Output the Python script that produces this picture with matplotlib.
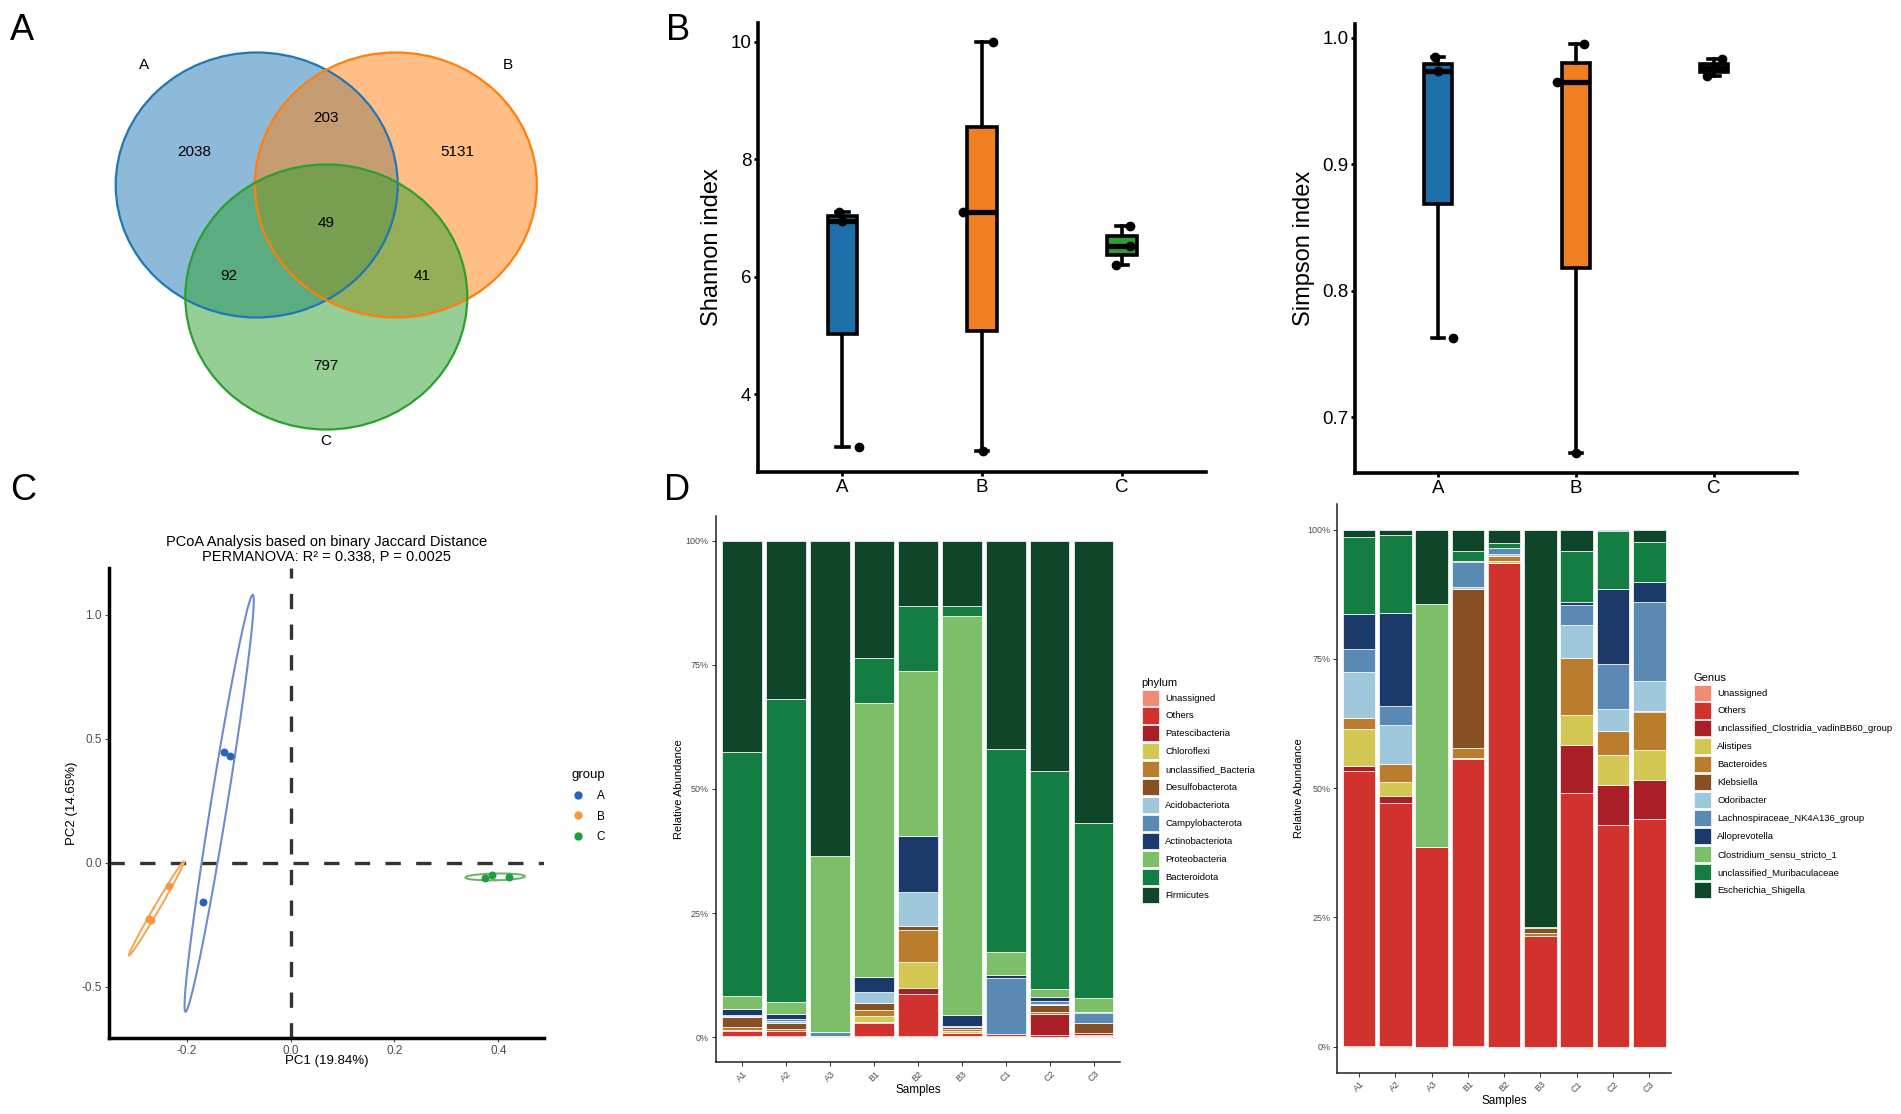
import numpy as np
import matplotlib
matplotlib.use('Agg')
import matplotlib.pyplot as plt
from matplotlib.patches import Ellipse, Patch
from matplotlib.lines import Line2D

plt.rcParams['font.family'] = ['Liberation Sans', 'DejaVu Sans']
plt.rcParams['axes.unicode_minus'] = False

W, H = 1901, 1114

# ---------------- data ----------------
venn_sets = ['A', 'B', 'C']
venn_regions = ['A', 'B', 'C', 'AB', 'AC', 'BC', 'ABC']
venn_counts = [2038, 5131, 797, 203, 92, 41, 49]

groups = ['A', 'B', 'C']
shannon_A = [3.10, 6.95, 7.10]
shannon_B = [3.04, 7.10, 9.99]
shannon_C = [6.20, 6.52, 6.86]
shannon_jit = [[0.12, 0.0, -0.02], [0.005, -0.135, 0.08], [-0.04, 0.056, 0.056]]

simpson_A = [0.763, 0.974, 0.985]
simpson_B = [0.6715, 0.9647, 0.9953]
simpson_C = [0.970, 0.976, 0.983]
simpson_jit = [[0.11, 0.0, -0.02], [0.0, -0.14, 0.06], [-0.05, 0.0, 0.06]]

pc1_A = [-0.128, -0.116, -0.168]
pc2_A = [0.446, 0.432, -0.156]
pc1_B = [-0.233, -0.272, -0.269]
pc2_B = [-0.094, -0.225, -0.232]
pc1_C = [0.3745, 0.3875, 0.420]
pc2_C = [-0.0616, -0.0504, -0.057]

samples = ['A1', 'A2', 'A3', 'B1', 'B2', 'B3', 'C1', 'C2', 'C3']

phyla = ['Unassigned', 'Others', 'Patescibacteria', 'Chloroflexi', 'unclassified_Bacteria',
         'Desulfobacterota', 'Acidobacteriota', 'Campylobacterota', 'Actinobacteriota',
         'Proteobacteria', 'Bacteroidota', 'Firmicutes']
ph_unassigned = [0.2, 0.2, 0.2, 0.2, 0.2, 0.2, 0.2, 0.1, 0.2]
ph_others = [1.1, 1.1, 0.1, 2.7, 8.5, 0.6, 0.5, 0.4, 0.3]
ph_patesci = [0.1, 0.0, 0.0, 0.1, 1.1, 0.1, 0.0, 4.1, 0.3]
ph_chloro = [0.1, 0.0, 0.0, 1.2, 5.4, 0.4, 0.0, 0.0, 0.0]
ph_unclbact = [0.5, 0.3, 0.0, 1.2, 6.3, 0.3, 0.0, 0.4, 0.0]
ph_desulfo = [2.0, 1.2, 0.0, 1.4, 0.9, 0.4, 0.0, 1.4, 2.0]
ph_acido = [0.3, 0.5, 0.0, 2.2, 6.9, 0.1, 0.0, 0.2, 0.0]
ph_campylo = [0.2, 0.4, 0.8, 0.0, 0.0, 0.2, 11.3, 0.6, 2.0]
ph_actino = [1.2, 0.9, 0.0, 3.1, 11.3, 2.1, 0.5, 0.8, 0.3]
ph_proteo = [2.5, 2.4, 35.3, 55.2, 33.1, 80.4, 4.7, 1.6, 2.8]
ph_bactero = [49.2, 61.0, 0.1, 9.0, 13.1, 2.0, 40.8, 43.9, 35.2]
ph_firmi = [42.6, 32.0, 63.5, 23.7, 13.2, 13.2, 42.0, 46.5, 56.9]

genera = ['Unassigned', 'Others', 'unclassified_Clostridia_vadinBB60_group', 'Alistipes',
          'Bacteroides', 'Klebsiella', 'Odoribacter', 'Lachnospiraceae_NK4A136_group',
          'Alloprevotella', 'Clostridium_sensu_stricto_1', 'unclassified_Muribaculaceae',
          'Escherichia_Shigella']
ge_unassigned = [0.1, 0.1, 0.0, 0.1, 0.0, 0.0, 0.0, 0.0, 0.0]
ge_others = [53.2, 47.0, 38.6, 55.5, 93.5, 21.4, 49.1, 42.9, 44.0]
ge_vadin = [0.9, 1.4, 0.0, 0.0, 0.0, 0.0, 9.2, 7.7, 7.5]
ge_alistipes = [7.2, 2.8, 0.0, 0.2, 0.5, 0.0, 5.8, 5.9, 5.9]
ge_bacteroides = [2.1, 3.4, 0.0, 2.0, 0.9, 0.5, 11.1, 4.5, 7.3]
ge_klebsiella = [0.0, 0.0, 0.0, 30.7, 0.0, 1.1, 0.0, 0.0, 0.3]
ge_odori = [8.9, 7.6, 0.0, 0.4, 0.4, 0.0, 6.4, 4.3, 5.8]
ge_lachno = [4.5, 3.6, 0.0, 4.9, 1.1, 0.0, 3.9, 8.8, 15.2]
ge_allopr = [6.8, 18.0, 0.0, 0.1, 0.0, 0.0, 0.5, 14.5, 3.9]
ge_clostr = [0.0, 0.0, 47.0, 0.0, 0.0, 0.0, 0.0, 0.0, 0.0]
ge_muri = [14.9, 15.2, 0.0, 1.9, 1.1, 0.2, 9.8, 11.2, 7.8]
ge_escher = [1.4, 1.0, 14.4, 4.2, 2.5, 76.8, 4.2, 0.2, 2.3]

# ---------------- styles ----------------
venn_colors = ['#1f77b4', '#ff7f0e', '#2ca02c']
box_colors = ['#1d6fa9', '#ee7f22', '#2f9b3a']
pt_colors = ['#2b63b3', '#f39a3d', '#1f9e3e']
ell_colors = ['#6f8bd0', '#f4a85a', '#6cb56a']
stack_colors = ['#f08c73', '#d2322d', '#aa1e28', '#d4c855', '#b97d2d', '#875023',
                '#a0c8dc', '#5a89b4', '#1c3a69', '#7dbe69', '#147d41', '#0f462a']

fig = plt.figure(figsize=(W / 100, H / 100), dpi=100)


def add_ax(x0, y0, x1, y1):
    return fig.add_axes([x0 / W, 1 - y1 / H, (x1 - x0) / W, (y1 - y0) / H])


# panel letters
for letter, (lx, ly) in zip('ABCD', [(10, 40), (666, 40), (10, 500), (664, 500)]):
    fig.text(lx / W, 1 - ly / H, letter, fontsize=26, va='baseline', ha='left')

# ---------------- A: Venn ----------------
ax = add_ax(90, 30, 570, 470)
ax.set_xlim(90, 570)
ax.set_ylim(470, 30)
ax.axis('off')
venn_centers = [(256.7, 185), (395.8, 185), (326.3, 297)]
for (cx, cy), c in zip(venn_centers, venn_colors):
    ax.add_patch(Ellipse((cx, cy), 282, 265, facecolor=c, alpha=0.5, edgecolor='none'))
for (cx, cy), c in zip(venn_centers, venn_colors):
    ax.add_patch(Ellipse((cx, cy), 282, 265, facecolor='none', edgecolor=c, lw=1.6))
set_label_pos = [(144, 65), (508, 65), (326, 441)]
for name, (tx, ty) in zip(venn_sets, set_label_pos):
    ax.text(tx, ty, name, ha='center', va='center', fontsize=11)
region_pos = {'A': (194, 152), 'B': (457, 152), 'C': (326, 366), 'AB': (326, 118),
              'AC': (229, 276), 'BC': (422, 276), 'ABC': (326, 223)}
for reg, n in zip(venn_regions, venn_counts):
    tx, ty = region_pos[reg]
    ax.text(tx, ty, str(n), ha='center', va='center', fontsize=11)


# ---------------- B: boxplots ----------------
def box_panel(ax, data, jit, ylim, yticks, yticklabels, ylabel, lab_x):
    bp = ax.boxplot(data, positions=[1, 2, 3], widths=0.21, capwidths=0.09,
                    patch_artist=True, showfliers=False, whis=1.5)
    for patch, c in zip(bp['boxes'], box_colors):
        patch.set_facecolor(c)
        patch.set_edgecolor('black')
        patch.set_linewidth(2.6)
    for l in bp['whiskers'] + bp['caps']:
        l.set_color('black')
        l.set_linewidth(2.6)
    for l in bp['medians']:
        l.set_color('black')
        l.set_linewidth(3.8)
    for i, (vals, js) in enumerate(zip(data, jit)):
        ax.scatter(i + 1 + np.array(js), vals, s=36, color='black', zorder=5)
    ax.set_xlim(0.4, 3.6)
    ax.set_ylim(*ylim)
    ax.set_xticks([1, 2, 3])
    ax.set_xticklabels(groups, fontsize=13.5)
    ax.set_yticks(yticks)
    ax.set_yticklabels(yticklabels, fontsize=13.5)
    ax.set_ylabel(ylabel, fontsize=17)
    ax.yaxis.set_label_coords(lab_x, 0.5)
    for s in ['top', 'right']:
        ax.spines[s].set_visible(False)
    for s in ['left', 'bottom']:
        ax.spines[s].set_linewidth(2.6)
    ax.tick_params(width=2, length=3, pad=2)


ax = add_ax(758.3, 22.7, 1205.9, 471.7)
box_panel(ax, [shannon_A, shannon_B, shannon_C], shannon_jit, (2.68, 10.32),
          [4, 6, 8, 10], ['4', '6', '8', '10'], 'Shannon index', -0.078)

ax = add_ax(1355.2, 24, 1796.8, 473.3)
box_panel(ax, [simpson_A, simpson_B, simpson_C], simpson_jit, (0.6557, 1.0108),
          [0.7, 0.8, 0.9, 1.0], ['0.7', '0.8', '0.9', '1.0'], 'Simpson index', -0.09)

# ---------------- C: PCoA ----------------
ax = add_ax(108.6, 568.1, 544.3, 1038)
ax.axvline(0, color='#333333', lw=2.4, ls=(0, (4.6, 4.6)), zorder=1)
ax.axhline(0, color='#333333', lw=2.4, ls=(0, (4.6, 4.6)), zorder=1)
ell_r = np.sqrt(-2 * np.log(1 - 0.95))
t = np.linspace(0, 2 * np.pi, 200)
pc_data = [(pc1_A, pc2_A), (pc1_B, pc2_B), (pc1_C, pc2_C)]
handles = []
for g, (xs, ys), pc, ec in zip(groups, pc_data, pt_colors, ell_colors):
    xs = np.array(xs)
    ys = np.array(ys)
    cov = np.cov(np.vstack([xs, ys]))
    vals, vecs = np.linalg.eigh(cov)
    circ = np.vstack([np.cos(t), np.sin(t)]) * np.sqrt(vals)[:, None] * ell_r
    pts = vecs @ circ
    ax.plot(xs.mean() + pts[0], ys.mean() + pts[1], color=ec, lw=1.5, zorder=2)
    ax.scatter(xs, ys, s=22, color=pc, zorder=3)
    handles.append(Line2D([], [], marker='o', ls='', color=pc, markersize=5, label=g))
ax.set_xlim(-0.3502, 0.4886)
ax.set_ylim(-0.706, 1.189)
ax.set_xticks([-0.2, 0.0, 0.2, 0.4])
ax.set_xticklabels(['-0.2', '0.0', '0.2', '0.4'])
ax.set_yticks([-0.5, 0.0, 0.5, 1.0])
ax.set_yticklabels(['-0.5', '0.0', '0.5', '1.0'])
ax.tick_params(labelsize=8.5, labelcolor='#4d4d4d', color='#4d4d4d', length=3, width=0.8, pad=2)
for s in ['top', 'right']:
    ax.spines[s].set_visible(False)
for s in ['left', 'bottom']:
    ax.spines[s].set_linewidth(2.5)
ax.set_xlabel('PC1 (19.84%)', fontsize=9.5)
ax.set_ylabel('PC2 (14.65%)', fontsize=9.5)
ax.xaxis.set_label_coords(0.5, -0.036)
ax.yaxis.set_label_coords(-0.07, 0.5)
ax.set_title('PCoA Analysis based on binary Jaccard Distance\nPERMANOVA: R\u00b2 = 0.338, P = 0.0025',
             fontsize=10.5, pad=5, linespacing=1.15)
ax.legend(handles=handles, title='group', loc='upper left',
          bbox_to_anchor=(566 / W, 1 - 763 / H), bbox_transform=fig.transFigure,
          frameon=False, fontsize=8.5, title_fontsize=9.5, handlelength=1.0,
          handletextpad=1.1, labelspacing=0.75, borderpad=0, alignment='left')


# ---------------- D: stacked bars ----------------
def stack_panel(ax, names, table, title, leg_xy, lab_x, lab_y):
    x = np.arange(1, len(samples) + 1)
    tab = np.array(table, dtype=float)
    tab = tab / tab.sum(axis=0)
    bottom = np.zeros(len(samples))
    for name, v, c in zip(names, tab, stack_colors):
        ax.bar(x, v, 0.9, bottom=bottom, color=c, edgecolor='white', linewidth=0.5)
        bottom += v
    ax.set_xlim(0.4, 9.6)
    ax.set_ylim(-0.05, 1.05)
    ax.set_xticks(x)
    ax.set_xticklabels(samples, rotation=45, ha='center', va='top')
    ax.set_yticks([0, 0.25, 0.5, 0.75, 1.0])
    ax.set_yticklabels(['0%', '25%', '50%', '75%', '100%'])
    ax.tick_params(labelsize=6.5, labelcolor='#4d4d4d', color='#333333', length=3, width=0.7, pad=2)
    for s in ['top', 'right']:
        ax.spines[s].set_visible(False)
    for s in ['left', 'bottom']:
        ax.spines[s].set_linewidth(1.1)
        ax.spines[s].set_color('#222222')
    ax.set_xlabel('Samples', fontsize=8.5)
    ax.set_ylabel('Relative Abundance', fontsize=8)
    ax.xaxis.set_label_coords(0.5, lab_y)
    ax.yaxis.set_label_coords(lab_x, 0.5)
    hs = [Patch(facecolor=c, edgecolor='white', lw=0.5, label=n) for n, c in zip(names, stack_colors)]
    ax.legend(handles=hs, title=title, loc='upper left',
              bbox_to_anchor=(leg_xy[0] / W, 1 - leg_xy[1] / H), bbox_transform=fig.transFigure,
              frameon=False, fontsize=6.8, title_fontsize=8, handlelength=1.8, handleheight=2.25,
              handletextpad=0.7, labelspacing=0.19, borderpad=0, alignment='left')


ax = add_ax(715.7, 515.7, 1120, 1062)
stack_panel(ax, phyla,
            [ph_unassigned, ph_others, ph_patesci, ph_chloro, ph_unclbact, ph_desulfo,
             ph_acido, ph_campylo, ph_actino, ph_proteo, ph_bactero, ph_firmi],
            'phylum', (1137, 673), -0.078, -0.04)

ax = add_ax(1337.3, 503.9, 1671, 1072.5)
stack_panel(ax, genera,
            [ge_unassigned, ge_others, ge_vadin, ge_alistipes, ge_bacteroides, ge_klebsiella,
             ge_odori, ge_lachno, ge_allopr, ge_clostr, ge_muri, ge_escher],
            'Genus', (1689, 668), -0.10, -0.04)

fig.savefig('out.png', dpi=100)
